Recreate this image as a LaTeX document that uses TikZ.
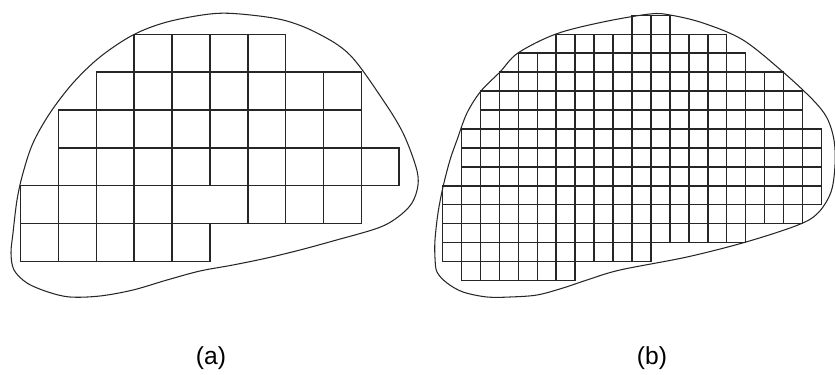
\documentclass[tikz,border=0pt]{standalone}
\usepackage{fontspec}
\setmainfont{Liberation Sans}
\usepackage{tikz}
\usetikzlibrary{positioning}

\tikzset{
  cellbox/.style={draw=black!85, line width=1.35pt},
  outline/.style={draw=black!85, line width=0.9pt},
  caption/.style={font=\fontsize{21}{24}\selectfont, inner sep=0pt}
}

\begin{document}
\begin{tikzpicture}[x=0.03cm, y=-0.03cm]
  \useasboundingbox (0,0) rectangle (835,375);

  % Panel (a): coarse cells
  \draw[outline] plot[smooth cycle, tension=0.55] coordinates {
    (240,14) (283,20) (317,33) (350,55) (383,100) (403,133) (416,167)
    (418,185) (412,203) (398,217) (378,228) (333,241) (300,250) (267,258)
    (233,265) (200,271) (167,280) (133,290) (100,296) (70,297) (48,292)
    (27,283) (14,270) (11,253) (13,233) (17,200) (23,173) (33,143)
    (50,113) (73,83) (100,57) (133,35) (167,22) (210,14)};
  \begin{scope}[shift={(20.7,34.3)}, scale=37.85]
    \foreach \r/\a/\b in {0/3/6, 1/2/8, 2/1/8, 3/1/9, 4/0/3, 4/6/8, 5/0/4}
      \foreach \c in {\a,...,\b}
        \draw[cellbox] (\c,\r) rectangle ++(1,1);
    \draw[cellbox] (4,4) rectangle (6,5);
  \end{scope}

  % Panel (b): fine cells
  \draw[outline] plot[smooth cycle, tension=0.55] coordinates {
    (650,14) (670,15) (703,23) (743,40) (783,72) (813,100) (827,118)
    (834,140) (835,165) (831,192) (818,213) (798,225) (746,242)
    (687,257) (620,270) (587,280) (563,288) (537,295)
    (510,297) (487,297) (463,292) (447,283) (437,272) (435,258) (435,240)
    (438,213) (443,187) (450,160) (457,140) (467,113) (481,91) (500,72)
    (518,53) (556,34) (603,22)};
  \begin{scope}[shift={(442.7,15.4)}, scale=18.93]
    \foreach \r/\a/\b in {0/10/11, 1/6/14, 2/4/15, 3/3/17, 4/2/18, 5/2/18,
                          6/1/19, 7/1/19, 8/1/19, 9/0/19, 10/0/18, 11/0/15,
                          12/0/10, 13/1/6}
      \foreach \c in {\a,...,\b}
        \draw[cellbox] (\c,\r) rectangle ++(1,1);
  \end{scope}

  % Captions
  \node[caption] (capa) at (211,358) {(a)};
  \node[caption] (capb) at (652,358) {(b)};
\end{tikzpicture}
\end{document}
